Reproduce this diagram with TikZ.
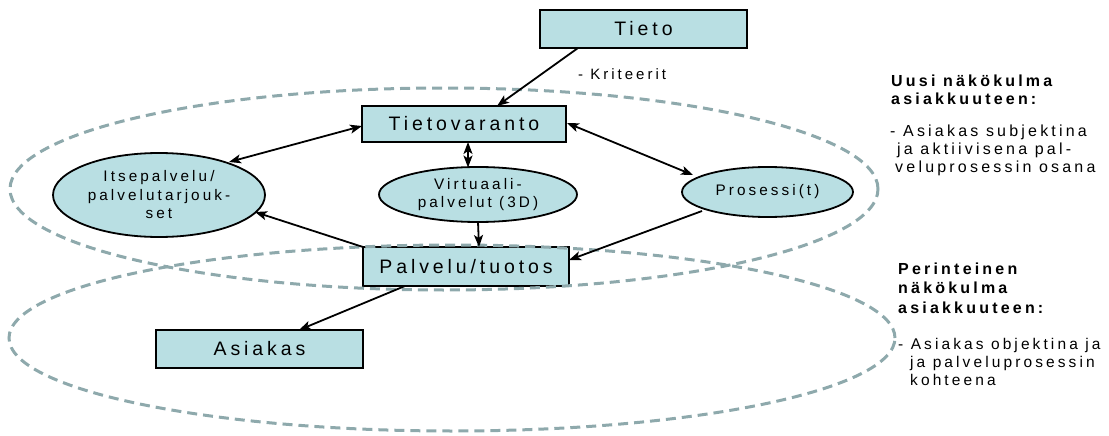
\documentclass[tikz,border=0pt]{standalone}
\usepackage{fontspec}
\setmainfont{Liberation Sans}
\newfontfamily\spc[LetterSpace=20]{Liberation Sans}
\usetikzlibrary{shapes.geometric,arrows.meta,calc}
\definecolor{boxfill}{HTML}{B9DFE3}
\definecolor{dashcol}{HTML}{8EA9AC}
\begin{document}
\begin{tikzpicture}[x=1pt,y=-1pt,
 boxnode/.style={draw=black, line width=2.2pt, fill=boxfill, rectangle, inner sep=0pt, outer sep=0pt, font=\spc\fontsize{19.5}{22}\selectfont},
 ellnode/.style={draw=black, line width=1.8pt, fill=boxfill, ellipse, inner sep=0pt, outer sep=0pt, align=center, font=\spc\fontsize{15.3}{18.5}\selectfont},
 tip/.tip={Stealth[length=12pt,width=9pt,inset=3pt]},
 conn/.style={line width=1.8pt, -tip},
 conn2/.style={line width=1.8pt, tip-tip},
 zone/.style={draw=dashcol, line width=3pt, dash pattern=on 10pt off 6pt},
 sidetext/.style={anchor=base west, inner sep=0pt, font=\spc\fontsize{16}{18.5}\selectfont},
 sidehead/.style={anchor=base west, inner sep=0pt, font=\spc\bfseries\fontsize{16}{18.5}\selectfont}
]
\useasboundingbox (0,0) rectangle (1109,436);

\node[boxnode, minimum width=207pt, minimum height=38pt] (tieto) at (643.5,29) {Tieto};
\node[boxnode, minimum width=204pt, minimum height=36pt] (tv) at (464,124) {Tietovaranto};
\node[boxnode, minimum width=206pt, minimum height=39pt] (pal) at (466,266.5) {Palvelu/tuotos};
\node[boxnode, minimum width=207pt, minimum height=38pt] (asi) at (259.5,349) {Asiakas};
\node[ellnode, minimum width=212pt, minimum height=84pt] (its) at (159,195) {Itsepalvelu/\\palvelutarjouk-\\set};
\node[ellnode, minimum width=198pt, minimum height=55pt] (vir) at (478,194.5) {Virtuaali-\\palvelut (3D)};
\node[ellnode, minimum width=171pt, minimum height=50pt] (pro) at (767.5,192) {Prosessi(t)};

\draw[zone] (444,189) ellipse [x radius=434pt, y radius=101pt];
\draw[zone] (452,338) ellipse [x radius=443pt, y radius=93pt];

\draw[conn] ($(tieto)+(-65.5,19)$) -- ($(tv)+(33,-18)$);
\draw[conn2] ($(tv)+(-102,2)$) -- ($(its)+(70,-33)$);
\draw[conn2] ($(tv)+(4,18)$) -- ($(vir)+(-10,-27)$);
\draw[conn2] ($(tv)+(103,-1)$) -- ($(pro)+(-74.5,-17)$);
\draw[conn] ($(pro)+(-65.5,19)$) -- ($(pal)+(103,-6.5)$);
\draw[conn] ($(vir)+(0,27.5)$) -- ($(pal)+(13,-19.5)$);
\draw[conn] ($(pal)+(-103,-19.5)$) -- ($(its)+(96,17)$);
\draw[conn] ($(pal)+(-61,19.5)$) -- ($(asi)+(39.5,-19)$);

\node[sidetext, font=\spc\fontsize{15}{18}\selectfont] (kr) at (578,80) {- Kriteerit};

\node[sidehead] (u1) at (891,87) {Uusi näkökulma};
\node[sidehead] (u2) at (891,105) {asiakkuuteen:};
\node[sidetext] (u3) at (890,136) {- Asiakas subjektina};
\node[sidetext] (u4) at (897,154) {ja aktiivisena pal-};
\node[sidetext] (u5) at (895,172) {veluprosessin osana};

\node[sidehead] (p1) at (898,274) {Perinteinen};
\node[sidehead] (p2) at (898,293.5) {näkökulma};
\node[sidehead] (p3) at (898,313) {asiakkuuteen:};
\node[sidetext, font=\spc\fontsize{15.5}{18.5}\selectfont] (p4) at (898,349) {- Asiakas objektina ja};
\node[sidetext, font=\spc\fontsize{15.5}{18.5}\selectfont] (p5) at (910,367) {ja palveluprosessin};
\node[sidetext, font=\spc\fontsize{15.5}{18.5}\selectfont] (p6) at (910,385) {kohteena};
\end{tikzpicture}
\end{document}
